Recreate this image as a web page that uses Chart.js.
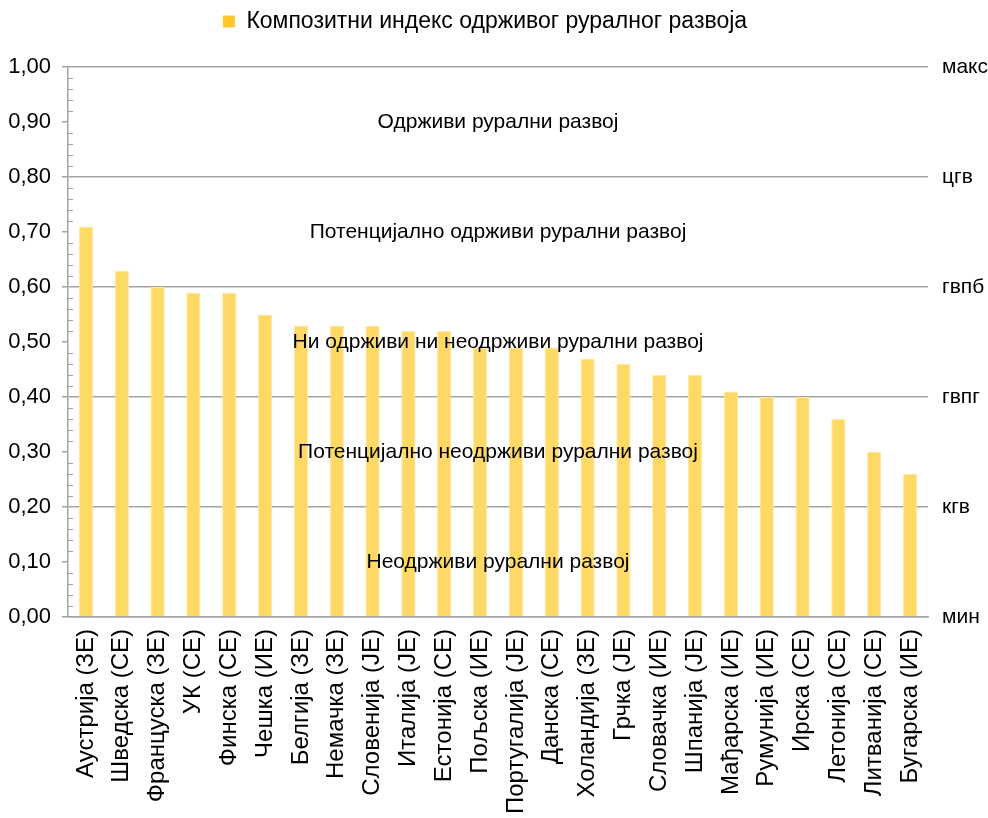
<!DOCTYPE html>
<html>
<head>
<meta charset="utf-8">
<script src="https://cdn.jsdelivr.net/npm/chart.js@4"></script>
<style>
html,body{margin:0;padding:0;background:#fff;}
#wrap{width:988px;height:818px;position:relative;}
</style>
</head>
<body>
<div id="wrap"><canvas id="c" width="988" height="818"></canvas></div>
<script>
const categories = ['Аустрија (ЗЕ)','Шведска (СЕ)','Француска (ЗЕ)','УК (СЕ)','Финска (СЕ)','Чешка (ИЕ)','Белгија (ЗЕ)','Немачка (ЗЕ)','Словенија (ЈЕ)','Италија (ЈЕ)','Естонија (СЕ)','Пољска (ИЕ)','Португалија (ЈЕ)','Данска (СЕ)','Холандија (ЗЕ)','Грчка (ЈЕ)','Словачка (ИЕ)','Шпанија (ЈЕ)','Мађарска (ИЕ)','Румунија (ИЕ)','Ирска (СЕ)','Летонија (СЕ)','Литванија (СЕ)','Бугарска (ИЕ)'];
const values = [0.71,0.63,0.60,0.59,0.59,0.55,0.53,0.53,0.53,0.52,0.52,0.49,0.49,0.49,0.47,0.46,0.44,0.44,0.41,0.40,0.40,0.36,0.30,0.26];
const seriesName = 'Композитни индекс одрживог руралног развоја';
const rightTickLabels = ['мин','кгв','гвпг','гвпб','цгв','макс'];
const zoneLabels = ['Одрживи рурални развој','Потенцијално одрживи рурални развој','Ни одрживи ни неодрживи рурални развој','Потенцијално неодрживи рурални развој','Неодрживи рурални развој'];
const zoneValues = [0.90,0.70,0.50,0.30,0.10];

const FONT = '"Liberation Sans", Arial, sans-serif';
const GRID = '#a3a3a3';

const extras = {
  id: 'extras',
  beforeInit(chart) {
    const lg = chart.legend;
    if (lg) {
      const orig = lg.fit;
      lg.fit = function () { orig.call(this); this.height = 67; };
    }
  },
  afterLayout(chart) {
    const lg = chart.legend;
    if (lg) { lg.left -= 9; lg.right -= 9; }
  },
  afterDatasetsDraw(chart) {
    const ctx = chart.ctx, y = chart.scales.y, area = chart.chartArea;
    ctx.save();
    // minor ticks
    ctx.strokeStyle = GRID; ctx.lineWidth = 1;
    for (let i = 0; i <= 50; i++) {
      if (i % 5 === 0) continue;
      const py = Math.round(y.getPixelForValue(i / 50)) + 0.5;
      ctx.beginPath(); ctx.moveTo(area.left, py); ctx.lineTo(area.left + 5, py); ctx.stroke();
    }
    // zone labels
    ctx.fillStyle = '#000';
    ctx.font = '21px ' + FONT;
    ctx.textAlign = 'center'; ctx.textBaseline = 'middle';
    const cx = (area.left + area.right) / 2;
    zoneLabels.forEach((t, i) => ctx.fillText(t, cx, y.getPixelForValue(zoneValues[i])));
    ctx.restore();
  }
};

new Chart(document.getElementById('c'), {
  type: 'bar',
  data: {
    labels: categories,
    datasets: [{
      label: seriesName,
      data: values,
      backgroundColor: '#FFD966',
      borderColor: '#FFE9A6',
      borderWidth: 1,
      barPercentage: 0.8,
      categoryPercentage: 0.5
    }]
  },
  options: {
    responsive: false,
    animation: false,
    layout: { padding: { top: 0, right: 0, left: 0, bottom: 0 } },
    plugins: {
      legend: {
        position: 'top',
        labels: {
          font: { size: 23, family: FONT },
          color: '#000',
          boxWidth: 12, boxHeight: 12,
          padding: 10,
          generateLabels(chart) {
            return [{ text: seriesName, fillStyle: '#FFC72C', strokeStyle: '#FFC72C', lineWidth: 0, datasetIndex: 0, fontColor: '#000' }];
          }
        }
      },
      tooltip: { enabled: false }
    },
    scales: {
      x: {
        grid: { display: false, drawTicks: false },
        border: { color: GRID, width: 1.5 },
        ticks: { font: { size: 24, family: FONT }, color: '#000', minRotation: 90, maxRotation: 90, padding: 12, autoSkip: false },
        afterFit(s) { s.height = 201; }
      },
      y: {
        position: 'left',
        min: 0, max: 1,
        ticks: { stepSize: 0.1, font: { size: 22, family: FONT }, color: '#000', padding: 11,
          callback: v => v.toFixed(2).replace('.', ',') },
        grid: {
          color: c => { const v = c.tick.value; return Math.abs(v * 5 - Math.round(v * 5)) < 1e-6 ? GRID : 'rgba(0,0,0,0)'; },
          tickColor: GRID, tickLength: 6, lineWidth: 1.5
        },
        border: { color: GRID, width: 1.5 },
        afterFit(s) { s.width = 68; }
      },
      y2: {
        position: 'right',
        min: 0, max: 1,
        ticks: { stepSize: 0.2, font: { size: 21, family: FONT }, color: '#000', padding: 14,
          callback: (v, i) => rightTickLabels[i] },
        grid: { display: false, drawTicks: false },
        border: { display: false },
        afterFit(s) { s.width = 60; }
      }
    }
  },
  plugins: [extras]
});
</script>
</body>
</html>
